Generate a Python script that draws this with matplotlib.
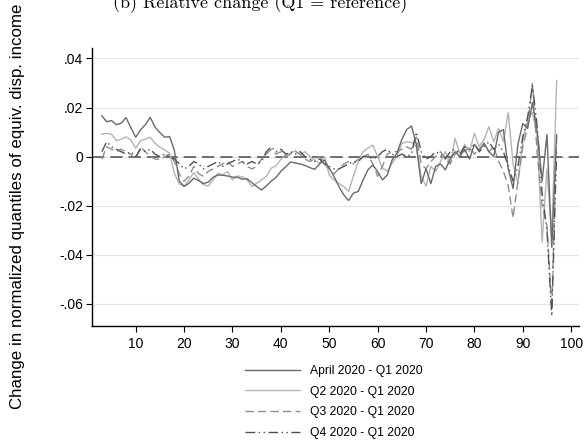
import numpy as np
import matplotlib
matplotlib.use("Agg")
import matplotlib.pyplot as plt

plt.rcParams['font.family'] = ['Liberation Sans', 'DejaVu Sans']

quantiles = list(range(3, 98))

april_q1 = [0.0166, 0.0142, 0.0147, 0.0130, 0.0136, 0.0159, 0.0118, 0.0079, 0.0109, 0.0130,
            0.0160, 0.0120, 0.0098, 0.0079, 0.0082, 0.0025, -0.0100, -0.0121, -0.0109, -0.0088,
            -0.0098, -0.0110, -0.0104, -0.0084, -0.0075, -0.0076, -0.0079, -0.0084, -0.0084, -0.0092,
            -0.0090, -0.0106, -0.0122, -0.0136, -0.0120, -0.0100, -0.0085, -0.0060, -0.0042, -0.0022,
            -0.0026, -0.0030, -0.0036, -0.0045, -0.0052, -0.0030, -0.0014, -0.0047, -0.0081, -0.0122,
            -0.0156, -0.0179, -0.0149, -0.0142, -0.0095, -0.0054, -0.0034, -0.0061, -0.0095, -0.0075,
            -0.0014, 0.0014, 0.0070, 0.0110, 0.0125, 0.0050, -0.0110, -0.0050, -0.0110, -0.0040,
            -0.0030, -0.0054, -0.0010, 0.0020, 0.0000, 0.0030, -0.0010, 0.0050, 0.0025, 0.0055,
            0.0020, 0.0000, 0.0100, 0.0110, -0.0050, -0.0130, 0.0050, 0.0135, 0.0115, 0.0220,
            0.0100, -0.0100, 0.0090, -0.0370, 0.0090]

q2_q1 = [0.0091, 0.0095, 0.0091, 0.0065, 0.0071, 0.0081, 0.0068, 0.0034, 0.0065, 0.0071,
         0.0079, 0.0054, 0.0038, 0.0027, 0.0014, -0.0068, -0.0111, -0.0122, -0.0095, -0.0065,
         -0.0092, -0.0115, -0.0120, -0.0095, -0.0068, -0.0075, -0.0061, -0.0095, -0.0079, -0.0082,
         -0.0095, -0.0122, -0.0109, -0.0095, -0.0081, -0.0047, -0.0038, -0.0011, 0.0007, 0.0014,
         0.0024, 0.0008, 0.0020, 0.0000, -0.0014, -0.0027, 0.0000, -0.0075, -0.0095, -0.0109,
         -0.0122, -0.0142, -0.0080, -0.0020, 0.0020, 0.0034, 0.0047, 0.0000, -0.0047, -0.0060,
         -0.0027, 0.0000, 0.0054, 0.0060, 0.0058, 0.0040, -0.0080, -0.0120, -0.0040, -0.0060,
         -0.0020, 0.0020, -0.0030, 0.0075, 0.0010, 0.0050, 0.0020, 0.0095, 0.0040, 0.0070,
         0.0122, 0.0060, 0.0115, 0.0060, 0.0180, -0.0030, -0.0110, 0.0060, 0.0150, 0.0180,
         0.0080, -0.0350, -0.0050, -0.0330, 0.0310]

q3_q1 = [-0.0010, 0.0040, 0.0030, 0.0020, 0.0030, 0.0020, 0.0010, -0.0010, 0.0040, 0.0020,
         0.0000, -0.0010, -0.0012, 0.0000, 0.0010, -0.0020, -0.0070, -0.0100, -0.0080, -0.0040,
         -0.0070, -0.0080, -0.0060, -0.0050, -0.0040, -0.0030, -0.0020, -0.0040, -0.0030, -0.0020,
         -0.0040, -0.0050, -0.0040, -0.0010, 0.0010, 0.0030, 0.0010, 0.0020, 0.0000, 0.0010,
         0.0020, 0.0010, -0.0010, -0.0020, -0.0010, 0.0000, -0.0030, -0.0050, -0.0070, -0.0050,
         -0.0030, -0.0020, -0.0030, -0.0010, 0.0000, 0.0010, -0.0030, -0.0080, -0.0040, 0.0010,
         0.0020, 0.0020, 0.0030, 0.0040, 0.0030, 0.0080, -0.0030, -0.0050, -0.0020, 0.0000,
         0.0020, -0.0010, -0.0030, 0.0010, 0.0030, 0.0020, 0.0040, 0.0010, 0.0030, 0.0050,
         0.0020, 0.0040, -0.0020, -0.0060, -0.0120, -0.0250, -0.0100, 0.0040, 0.0120, 0.0300,
         0.0010, -0.0200, -0.0280, -0.0620, 0.0080]

q4_q1 = [0.0020, 0.0060, 0.0040, 0.0030, 0.0020, 0.0010, 0.0020, 0.0000, 0.0030, 0.0020,
         0.0030, 0.0010, 0.0000, 0.0010, 0.0000, -0.0010, -0.0030, -0.0050, -0.0040, -0.0020,
         -0.0030, -0.0050, -0.0040, -0.0030, -0.0020, -0.0040, -0.0030, -0.0020, -0.0010, -0.0020,
         -0.0030, -0.0020, -0.0030, -0.0020, 0.0020, 0.0040, 0.0020, 0.0030, 0.0010, 0.0020,
         0.0010, 0.0020, 0.0000, -0.0010, -0.0020, -0.0010, -0.0030, -0.0040, -0.0050, -0.0050,
         -0.0040, -0.0030, -0.0020, -0.0020, 0.0000, 0.0000, -0.0010, 0.0000, 0.0020, 0.0030,
         0.0010, 0.0000, 0.0010, 0.0000, 0.0010, 0.0100, 0.0020, -0.0010, 0.0000, 0.0020,
         0.0010, -0.0010, 0.0020, 0.0030, 0.0010, 0.0040, 0.0030, 0.0050, 0.0020, 0.0040,
         0.0060, 0.0030, 0.0050, 0.0020, -0.0040, -0.0100, -0.0040, 0.0080, 0.0160, 0.0290,
         0.0120, -0.0150, -0.0300, -0.0650, 0.0030]

labels = ["April 2020 - Q1 2020", "Q2 2020 - Q1 2020", "Q3 2020 - Q1 2020", "Q4 2020 - Q1 2020"]
yticks = [-0.06, -0.04, -0.02, 0, 0.02, 0.04]
yticklabels = ["-.06", "-.04", "-.02", "0", ".02", ".04"]
xticks = [10, 20, 30, 40, 50, 60, 70, 80, 90, 100]

fig = plt.figure(figsize=(5.87, 4.44), dpi=100)
ax = fig.add_axes([0.157, 0.266, 0.830, 0.625])

for yv in yticks:
    ax.axhline(yv, color='#e6e6e6', lw=0.9, zorder=0)

ax.axhline(0, color='#4a4a4a', lw=1.1, dashes=(8, 4), zorder=1)

ax.plot(quantiles, april_q1, color='#6a6a6a', lw=1.0, label=labels[0], zorder=3)
ax.plot(quantiles, q2_q1, color='#b4b4b4', lw=1.0, label=labels[1], zorder=2)
ax.plot(quantiles, q3_q1, color='#8e8e8e', lw=1.0, dashes=(6, 3), label=labels[2], zorder=2)
ax.plot(quantiles, q4_q1, color='#505050', lw=1.0, dashes=(7, 2.5, 1, 2.5, 1, 2.5), label=labels[3], zorder=2)

ax.set_xlim(1, 101.7)
ax.set_ylim(-0.069, 0.0441)
ax.set_xticks(xticks)
ax.set_yticks(yticks)
ax.set_yticklabels(yticklabels)
ax.tick_params(axis='both', direction='out', length=4.5, width=0.8, labelsize=10, colors='black')
ax.tick_params(axis='y', pad=2)
for s in ['top', 'right']:
    ax.spines[s].set_visible(False)
for s in ['left', 'bottom']:
    ax.spines[s].set_linewidth(1.0)

ax.set_ylabel("Change in normalized quantiles of equiv. disp. income", fontsize=12.2)
ax.yaxis.set_label_coords(-0.138, 0.43)

leg = fig.legend(loc='upper left', bbox_to_anchor=(0.417, 0.178), frameon=False, fontsize=8.7,
                 handlelength=4.55, handletextpad=0.83, labelspacing=0.72, borderpad=0, borderaxespad=0)

fig.text(0.443, 1 - 8.5 / 444, "(b) Relative change (Q1 = reference)", ha='center', va='baseline',
         fontsize=13, family='cmr10')

fig.savefig("out.png", dpi=100)
